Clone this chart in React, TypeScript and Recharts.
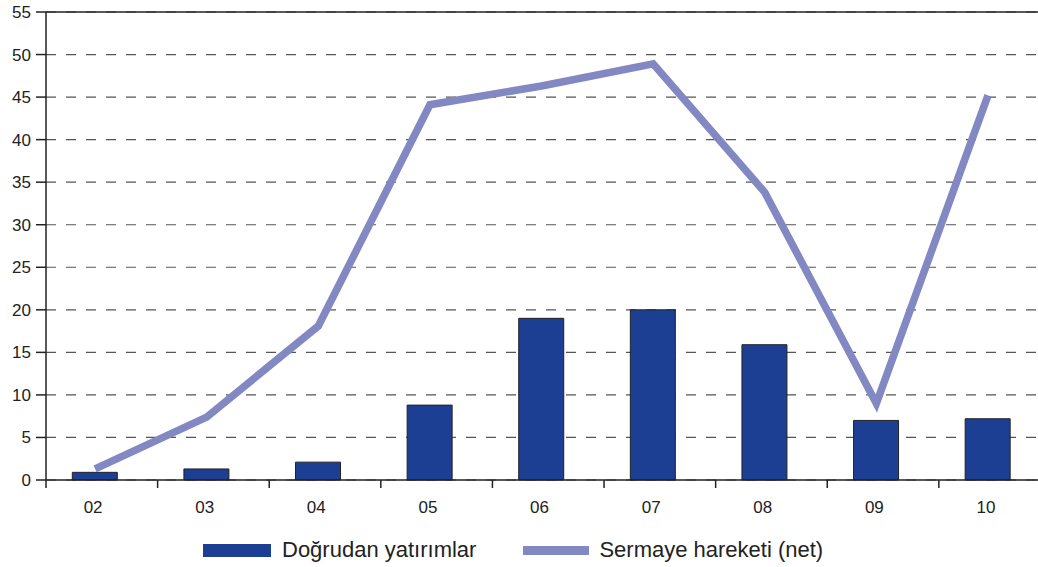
import React from 'react';
import {
  ComposedChart,
  Bar,
  Line,
  XAxis,
  YAxis,
  CartesianGrid,
  ReferenceLine,
  Legend,
} from 'recharts';

const years = ['02', '03', '04', '05', '06', '07', '08', '09', '10'];
const directInvestment = [0.9, 1.3, 2.1, 8.8, 19.0, 20.0, 15.9, 7.0, 7.2];
const capitalFlows = [1.3, 7.4, 18.1, 44.1, 46.3, 48.9, 33.8, 9.0, 45.2];
const yTicks = [0, 5, 10, 15, 20, 25, 30, 35, 40, 45, 50, 55];
// category centres sit on integers, the axis tick marks sit between them
const labelTicks = [0, 1, 2, 3, 4, 5, 6, 7, 8];
const boundaryTicks = [-0.44, 0.56, 1.56, 2.56, 3.56, 4.56, 5.56, 6.56, 7.56];

const BAR_COLOR = '#1c3f94';
const LINE_COLOR = '#8288c2';
const INK = '#222';
const FONT = '"Liberation Sans", Arial, Helvetica, sans-serif';

const data = years.map((year, i) => ({
  i,
  year,
  direct: directInvestment[i],
  net: capitalFlows[i],
}));

const XTick = (props: any) => {
  const { x, y, payload } = props;
  const v = payload.value;
  if (Number.isInteger(v)) {
    return (
      <text x={x - 2} y={y + 33} textAnchor="middle" fill={INK} fontSize={17} fontFamily={FONT}>
        {years[v]}
      </text>
    );
  }
  return <line x1={x} y1={y} x2={x} y2={y + 8} stroke={INK} strokeWidth={1.5} />;
};

const LegendContent = () => (
  <div
    style={{
      display: 'flex',
      alignItems: 'center',
      height: 40,
      boxSizing: 'border-box',
      paddingTop: 6,
      paddingLeft: 203,
      fontFamily: FONT,
      fontSize: 22,
      color: INK,
    }}
  >
    <span style={{ display: 'inline-block', width: 68, height: 13, background: BAR_COLOR }} />
    <span style={{ marginLeft: 11 }}>Doğrudan yatırımlar</span>
    <span style={{ display: 'inline-block', width: 66, height: 9, background: LINE_COLOR, marginLeft: 47 }} />
    <span style={{ marginLeft: 10 }}>Sermaye hareketi (net)</span>
  </div>
);

export default function App() {
  return (
    <div style={{ position: 'absolute', left: 0, top: 0, width: 1038, height: 567, overflow: 'hidden', background: '#fff' }}>
      <ComposedChart
        width={1046}
        height={567}
        data={data}
        margin={{ top: 12, right: 0, bottom: 0, left: 0 }}
        style={{ fontFamily: FONT }}
      >
        <CartesianGrid vertical={false} stroke="#555" strokeDasharray="10 10" strokeWidth={1.2} />
        <XAxis
          dataKey="i"
          type="number"
          domain={[-0.44, 8.52]}
          allowDataOverflow
          ticks={[...boundaryTicks, ...labelTicks]}
          interval={0}
          tick={<XTick />}
          tickLine={false}
          tickSize={0}
          tickMargin={0}
          axisLine={{ stroke: INK, strokeWidth: 1.5 }}
          height={47}
        />
        <YAxis
          domain={[0, 55]}
          ticks={yTicks}
          interval={0}
          width={46}
          tickSize={10}
          tickMargin={5}
          tick={{ fill: INK, fontSize: 17, fontFamily: FONT }}
          tickLine={{ stroke: INK, strokeWidth: 1.5 }}
          axisLine={{ stroke: INK, strokeWidth: 1.5 }}
        />
        <ReferenceLine y={55} stroke={INK} strokeWidth={1.5} />
        <Bar
          dataKey="direct"
          name="Doğrudan yatırımlar"
          fill={BAR_COLOR}
          stroke={INK}
          strokeWidth={1}
          barSize={45}
          isAnimationActive={false}
        />
        <Line
          dataKey="net"
          name="Sermaye hareketi (net)"
          type="linear"
          stroke={LINE_COLOR}
          strokeWidth={7.5}
          strokeLinejoin="miter"
          strokeLinecap="butt"
          dot={false}
          activeDot={false}
          isAnimationActive={false}
        />
        <Legend verticalAlign="bottom" height={40} content={<LegendContent />} />
      </ComposedChart>
    </div>
  );
}
